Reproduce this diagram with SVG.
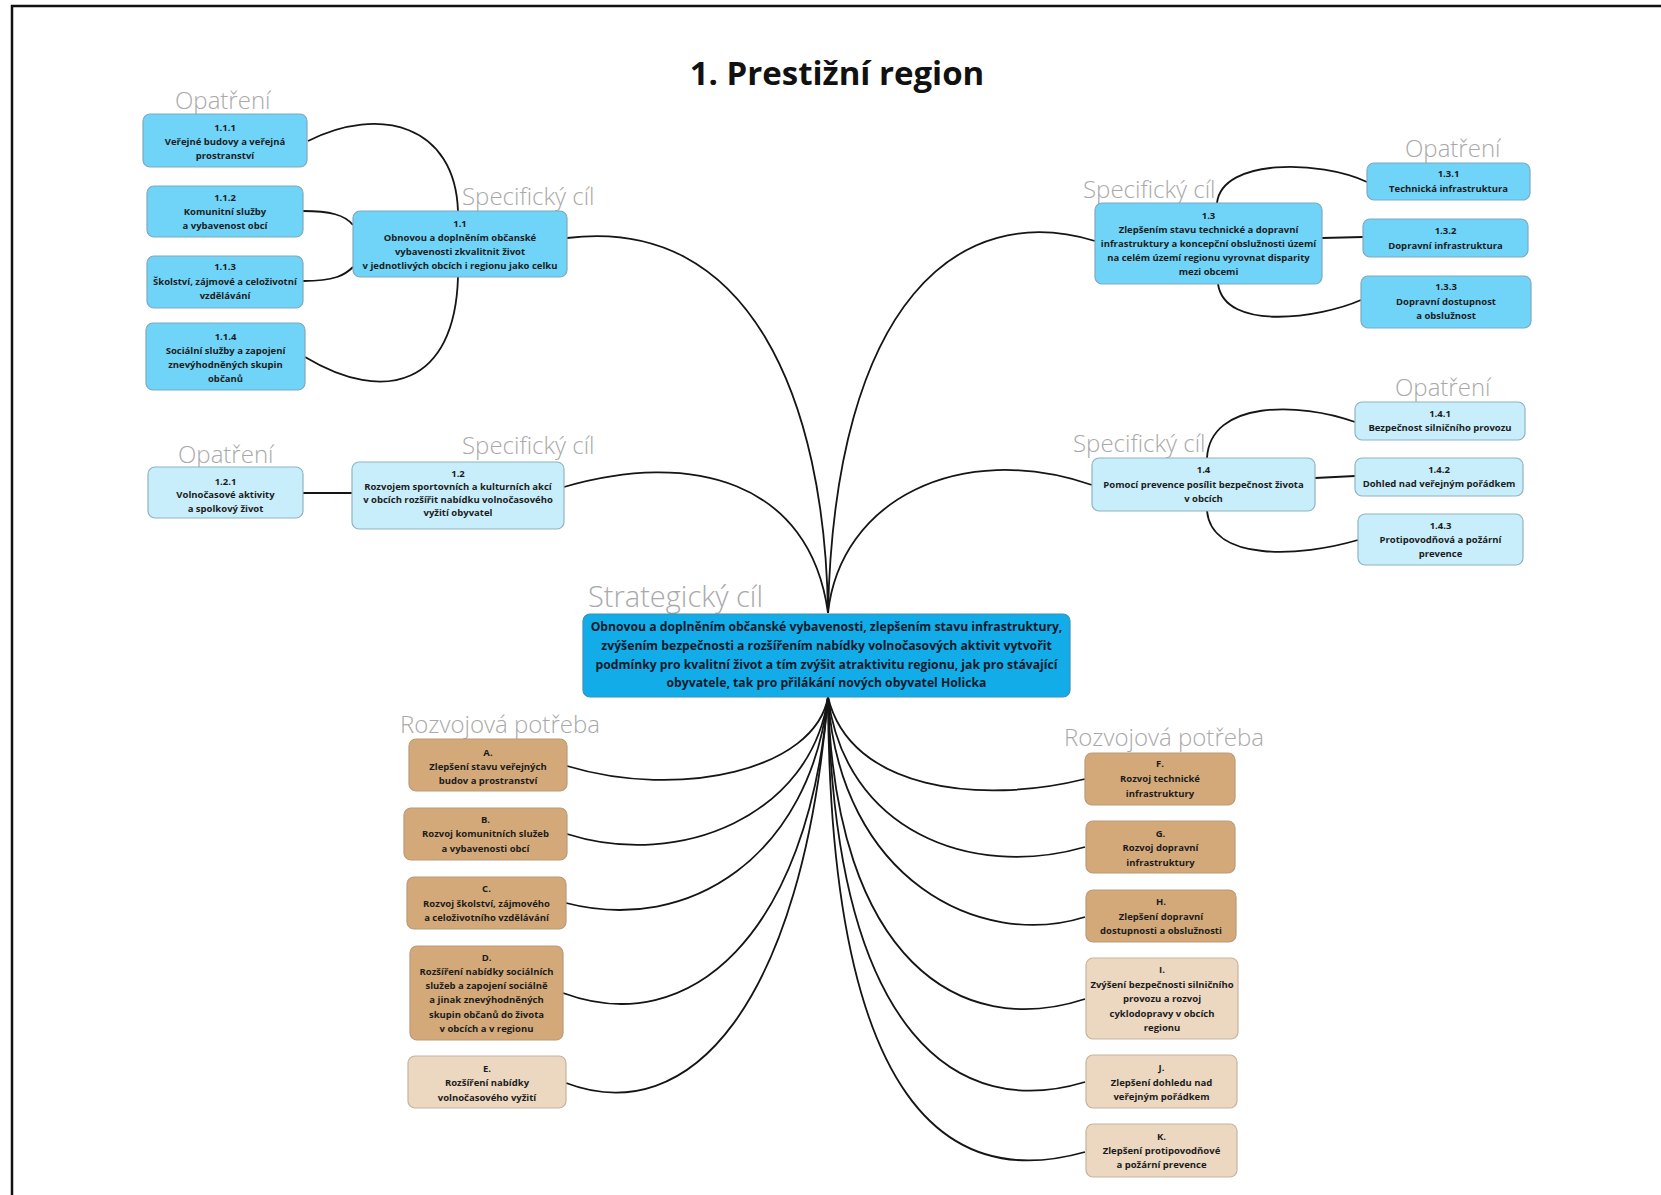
<svg xmlns="http://www.w3.org/2000/svg" width="1661" height="1195" viewBox="0 0 1661 1195">
<style>
.bg{fill:#ffffff}
.frame{fill:none;stroke:#111;stroke-width:2.5}
.title{font-family:"Open Sans","Noto Sans","Liberation Sans",sans-serif;font-weight:700;font-size:33px;fill:#111;text-anchor:middle}
.lbl{font-family:"Open Sans","Noto Sans","Liberation Sans",sans-serif;font-weight:300;font-size:24px;fill:#a9a9a9}
.big{font-size:29px}
.t{font-family:"Open Sans","Noto Sans","Liberation Sans",sans-serif;font-weight:700;font-size:9.5px;fill:#1c1c1c;text-anchor:middle}
.tc{font-family:"Open Sans","Noto Sans","Liberation Sans",sans-serif;font-weight:700;font-size:12.2px;fill:#0f1a2a;text-anchor:middle}
.b1{fill:#6fd4f8;stroke:#7fa9bd;stroke-width:1.2}
.b2{fill:#c8eefb;stroke:#8fb3c2;stroke-width:1.2}
.bc{fill:#12ade9;stroke:#3b8fb8;stroke-width:1.2}
.n1{fill:#d4a979;stroke:#b99a78;stroke-width:1.2}
.n2{fill:#ecd7c0;stroke:#c6b39f;stroke-width:1.2}
.c{fill:none;stroke:#151515;stroke-width:1.8}
</style>
<rect class="bg" x="0" y="0" width="1661" height="1195"/>
<path class="frame" d="M12,1195 L12,6 L1661,6"/>
<text class="title" x="837" y="85">1. Prestižní region</text>

<g id="labels">
<text class="lbl" x="175" y="109">Opatření</text>
<text class="lbl" x="462" y="205">Specifický cíl</text>
<text class="lbl" x="178" y="463">Opatření</text>
<text class="lbl" x="462" y="454">Specifický cíl</text>
<text class="lbl" x="1405" y="157">Opatření</text>
<text class="lbl" x="1083" y="198">Specifický cíl</text>
<text class="lbl" x="1395" y="396">Opatření</text>
<text class="lbl" x="1073" y="452">Specifický cíl</text>
<text class="lbl big" x="588" y="607">Strategický cíl</text>
<text class="lbl" x="400" y="733">Rozvojová potřeba</text>
<text class="lbl" x="1064" y="746">Rozvojová potřeba</text>
</g>

<g id="connectors">
<path class="c" d="M308,141 C380,105 455,125 458,211"/>
<path class="c" d="M303,211 C330,211 345,215 353,225"/>
<path class="c" d="M303,281 C335,281 345,275 353,267"/>
<path class="c" d="M305,357 C385,405 455,385 458,277"/>
<path class="c" d="M303,493 L352,493"/>
<path class="c" d="M1217,203 C1222,158 1320,160 1367,182"/>
<path class="c" d="M1322,238 L1363,237"/>
<path class="c" d="M1218,284 C1225,332 1320,318 1361,300"/>
<path class="c" d="M1207,458 C1210,400 1300,402 1355,422"/>
<path class="c" d="M1315,478 L1355,476"/>
<path class="c" d="M1207,511 C1212,562 1300,557 1358,540"/>
<path class="c" d="M828,613 C825,400 750,215 567,238"/>
<path class="c" d="M828,613 C810,480 690,450 564,487"/>
<path class="c" d="M828,613 C835,300 960,200 1095,241"/>
<path class="c" d="M828,613 C840,500 960,440 1092,485"/>
<path class="c" d="M828,697 C815,770 680,800 567,766"/>
<path class="c" d="M828,697 C812,815 680,870 567,834"/>
<path class="c" d="M828,697 C810,855 690,935 566,903"/>
<path class="c" d="M828,697 C808,935 690,1040 563,993"/>
<path class="c" d="M828,697 C802,1005 690,1130 566,1083"/>
<path class="c" d="M828,697 C850,790 980,805 1085,779"/>
<path class="c" d="M828,697 C845,830 970,880 1085,847"/>
<path class="c" d="M828,697 C840,880 980,950 1085,917"/>
<path class="c" d="M828,697 C835,960 960,1040 1085,999"/>
<path class="c" d="M828,697 C835,1040 960,1120 1085,1082"/>
<path class="c" d="M828,697 C830,1110 950,1190 1085,1152"/>
</g>

<g id="n111"><rect class="b1" x="143" y="114" width="164" height="53" rx="7"/>
<text class="t" x="225" y="130.5">1.1.1</text><text class="t" x="225" y="144.5">Veřejné budovy a veřejná</text><text class="t" x="225" y="158.5">prostranství</text></g>
<g id="n112"><rect class="b1" x="147" y="186" width="156" height="51" rx="7"/>
<text class="t" x="225" y="200.5">1.1.2</text><text class="t" x="225" y="214.5">Komunitní služby</text><text class="t" x="225" y="228.5">a vybavenost obcí</text></g>
<g id="n113"><rect class="b1" x="147" y="256" width="156" height="52" rx="7"/>
<text class="t" x="225" y="269.5">1.1.3</text><text class="t" x="225" y="284.5">Školství, zájmové a celoživotní</text><text class="t" x="225" y="298.5">vzdělávání</text></g>
<g id="n114"><rect class="b1" x="146" y="323" width="159" height="67" rx="7"/>
<text class="t" x="225.5" y="339.5">1.1.4</text><text class="t" x="225.5" y="353.5">Sociální služby a zapojení</text><text class="t" x="225.5" y="367.5">znevýhodněných skupin</text><text class="t" x="225.5" y="381.5">občanů</text></g>
<g id="n11"><rect class="b1" x="353" y="211" width="214" height="66" rx="7"/>
<text class="t" x="460" y="226.5">1.1</text><text class="t" x="460" y="240.5">Obnovou a doplněním občanské</text><text class="t" x="460" y="254.5">vybavenosti zkvalitnit život</text><text class="t" x="460" y="268.5">v jednotlivých obcích i regionu jako celku</text></g>

<g id="n121"><rect class="b2" x="148" y="467" width="155" height="51" rx="7"/>
<text class="t" x="225.5" y="484.5">1.2.1</text><text class="t" x="225.5" y="498">Volnočasové aktivity</text><text class="t" x="225.5" y="511.5">a spolkový život</text></g>
<g id="n12"><rect class="b2" x="352" y="462" width="212" height="67" rx="7"/>
<text class="t" x="458" y="476.5">1.2</text><text class="t" x="458" y="489.5">Rozvojem sportovních a kulturních akcí</text><text class="t" x="458" y="502.5">v obcích rozšířit nabídku volnočasového</text><text class="t" x="458" y="515.5">vyžití obyvatel</text></g>

<g id="n13"><rect class="b1" x="1095" y="203" width="227" height="81" rx="7"/>
<text class="t" x="1208.5" y="218.5">1.3</text><text class="t" x="1208.5" y="232.5">Zlepšením stavu technické a dopravní</text><text class="t" x="1208.5" y="246.5">infrastruktury a koncepční obslužnosti území</text><text class="t" x="1208.5" y="260.5">na celém území regionu vyrovnat disparity</text><text class="t" x="1208.5" y="274.5">mezi obcemi</text></g>
<g id="n131"><rect class="b1" x="1367" y="163" width="163" height="37" rx="7"/>
<text class="t" x="1448.5" y="176.5">1.3.1</text><text class="t" x="1448.5" y="191.5">Technická infrastruktura</text></g>
<g id="n132"><rect class="b1" x="1363" y="219" width="165" height="38" rx="7"/>
<text class="t" x="1445.5" y="233.5">1.3.2</text><text class="t" x="1445.5" y="248.5">Dopravní infrastruktura</text></g>
<g id="n133"><rect class="b1" x="1361" y="276" width="170" height="52" rx="7"/>
<text class="t" x="1446" y="289.5">1.3.3</text><text class="t" x="1446" y="304.5">Dopravní dostupnost</text><text class="t" x="1446" y="318.5">a obslužnost</text></g>

<g id="n14"><rect class="b2" x="1092" y="458" width="223" height="53" rx="7"/>
<text class="t" x="1203.5" y="472.5">1.4</text><text class="t" x="1203.5" y="487.5">Pomocí prevence posílit bezpečnost života</text><text class="t" x="1203.5" y="501.5">v obcích</text></g>
<g id="n141"><rect class="b2" x="1355" y="402" width="170" height="38" rx="7"/>
<text class="t" x="1440" y="416.5">1.4.1</text><text class="t" x="1440" y="430.5">Bezpečnost silničního provozu</text></g>
<g id="n142"><rect class="b2" x="1355" y="458" width="168" height="38" rx="7"/>
<text class="t" x="1439" y="472.5">1.4.2</text><text class="t" x="1439" y="486.5">Dohled nad veřejným pořádkem</text></g>
<g id="n143"><rect class="b2" x="1358" y="514" width="165" height="51" rx="7"/>
<text class="t" x="1440.5" y="528.5">1.4.3</text><text class="t" x="1440.5" y="542.5">Protipovodňová a požární</text><text class="t" x="1440.5" y="556.5">prevence</text></g>

<g id="center"><rect class="bc" x="583" y="614" width="487" height="83" rx="7"/>
<text class="tc" x="826.5" y="631.3">Obnovou a doplněním občanské vybavenosti, zlepšením stavu infrastruktury,</text>
<text class="tc" x="826.5" y="650">zvýšením bezpečnosti a rozšířením nabídky volnočasových aktivit vytvořit</text>
<text class="tc" x="826.5" y="668.7">podmínky pro kvalitní život a tím zvýšit atraktivitu regionu, jak pro stávající</text>
<text class="tc" x="826.5" y="687">obyvatele, tak pro přilákání nových obyvatel Holicka</text></g>

<g id="nA"><rect class="n1" x="409" y="739" width="158" height="52" rx="7"/>
<text class="t" x="488" y="755.5">A.</text><text class="t" x="488" y="769.5">Zlepšení stavu veřejných</text><text class="t" x="488" y="783.5">budov a prostranství</text></g>
<g id="nB"><rect class="n1" x="404" y="808" width="163" height="52" rx="7"/>
<text class="t" x="485.5" y="822.5">B.</text><text class="t" x="485.5" y="836.5">Rozvoj komunitních služeb</text><text class="t" x="485.5" y="851.5">a vybavenosti obcí</text></g>
<g id="nC"><rect class="n1" x="407" y="877" width="159" height="52" rx="7"/>
<text class="t" x="486.5" y="891.5">C.</text><text class="t" x="486.5" y="906.5">Rozvoj školství, zájmového</text><text class="t" x="486.5" y="920.5">a celoživotního vzdělávání</text></g>
<g id="nD"><rect class="n1" x="410" y="946" width="153" height="94" rx="7"/>
<text class="t" x="486.5" y="960.5">D.</text><text class="t" x="486.5" y="974.5">Rozšíření nabídky sociálních</text><text class="t" x="486.5" y="988.5">služeb a zapojení sociálně</text><text class="t" x="486.5" y="1002.5">a jinak znevýhodněných</text><text class="t" x="486.5" y="1017.5">skupin občanů do života</text><text class="t" x="486.5" y="1031.5">v obcích a v regionu</text></g>
<g id="nE"><rect class="n2" x="408" y="1056" width="158" height="52" rx="7"/>
<text class="t" x="487" y="1071.5">E.</text><text class="t" x="487" y="1085.5">Rozšíření nabídky</text><text class="t" x="487" y="1100.5">volnočasového vyžití</text></g>

<g id="nF"><rect class="n1" x="1085" y="753" width="150" height="52" rx="7"/>
<text class="t" x="1160" y="766.5">F.</text><text class="t" x="1160" y="781.5">Rozvoj technické</text><text class="t" x="1160" y="796.5">infrastruktury</text></g>
<g id="nG"><rect class="n1" x="1086" y="821" width="149" height="52" rx="7"/>
<text class="t" x="1160.5" y="836.5">G.</text><text class="t" x="1160.5" y="850.5">Rozvoj dopravní</text><text class="t" x="1160.5" y="865.5">infrastruktury</text></g>
<g id="nH"><rect class="n1" x="1086" y="890" width="150" height="52" rx="7"/>
<text class="t" x="1161" y="904.5">H.</text><text class="t" x="1161" y="919.5">Zlepšení dopravní</text><text class="t" x="1161" y="933.5">dostupnosti a obslužnosti</text></g>
<g id="nI"><rect class="n2" x="1086" y="958" width="152" height="81" rx="7"/>
<text class="t" x="1162" y="972.5">I.</text><text class="t" x="1162" y="987.5">Zvýšení bezpečnosti silničního</text><text class="t" x="1162" y="1001.5">provozu a rozvoj</text><text class="t" x="1162" y="1016.5">cyklodopravy v obcích</text><text class="t" x="1162" y="1030.5">regionu</text></g>
<g id="nJ"><rect class="n2" x="1086" y="1055" width="151" height="53" rx="7"/>
<text class="t" x="1161.5" y="1070.5">J.</text><text class="t" x="1161.5" y="1085.5">Zlepšení dohledu nad</text><text class="t" x="1161.5" y="1099.5">veřejným pořádkem</text></g>
<g id="nK"><rect class="n2" x="1086" y="1124" width="151" height="53" rx="7"/>
<text class="t" x="1161.5" y="1139.5">K.</text><text class="t" x="1161.5" y="1153.5">Zlepšení protipovodňové</text><text class="t" x="1161.5" y="1167.5">a požární prevence</text></g>
</svg>
